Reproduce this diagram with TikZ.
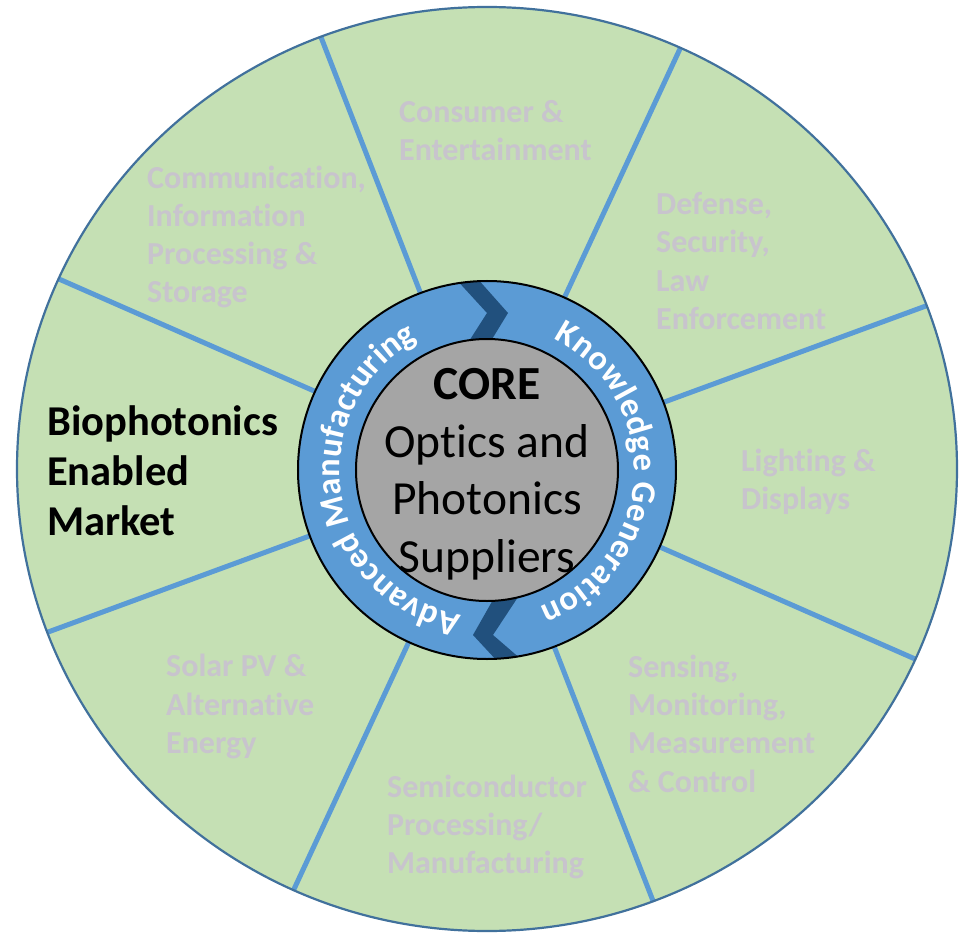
\documentclass[tikz,border=0pt]{standalone}
\usepackage{fontspec}
\setmainfont{Carlito}[Ligatures=NoCommon]
\usetikzlibrary{decorations.text}

\definecolor{sectorgreen}{RGB}{197,224,180}
\definecolor{spokeblue}{RGB}{91,155,213}
\definecolor{rimblue}{RGB}{65,113,156}
\definecolor{chevronblue}{RGB}{33,80,125}
\definecolor{coregray}{RGB}{165,165,165}
\definecolor{labelgray}{RGB}{200,196,205}

\begin{document}
\begin{tikzpicture}[
    x=1pt, y=1pt,
    spoke/.style={draw=spokeblue, line width=5pt},
    rim/.style={draw=rimblue, line width=2.2pt},
    sector/.style={anchor=west, align=left, inner sep=0pt, text=labelgray,
      font=\bfseries\fontsize{32}{38.3}\selectfont},
    market/.style={anchor=west, align=left, inner sep=0pt, text=black,
      font=\bfseries\fontsize{42.5}{50}\selectfont},
    corecircle/.style={circle, draw=black, line width=2pt, fill=coregray,
      minimum size=262pt, inner sep=0pt},
    coretext/.style={align=center, inner sep=0pt,
      font=\fontsize{47.5}{57.5}\selectfont},
    ringtext/.style={decorate, decoration={text along path, text align={fit to path},
      text={|\color{white}\bfseries\fontsize{34.5}{34.5}\selectfont|#1}}}
]
\useasboundingbox (-487,-462) rectangle (474,470);

\def\rimrx{470}
\def\rimry{462}
\def\ringout{189}
\def\ringin{131}
\def\ringbase{147}

\begin{scope}[yshift=1pt]
  \fill[sectorgreen] (0,0) ellipse [x radius=\rimrx, y radius=\rimry];
  \foreach \a in {20.7,65.7,...,335.7}
    \draw[spoke] (\a:\ringout-4) -- (\a:{\rimrx} and {\rimry});
  \draw[rim] (0,0) ellipse [x radius=\rimrx, y radius=\rimry];
\end{scope}

\fill[spokeblue] (0,0) circle [radius=\ringout];
\begin{scope}
  \clip (0,0) circle [radius=\ringout];
  \fill[chevronblue] (-33,193) -- (0,157) -- (-23,121) -- (-1,121) -- (21,157) -- (-11,193) -- cycle;
  \fill[chevronblue] (11,-121) -- (-14,-165) -- (17.5,-199) -- (45.4,-199) -- (6,-165) -- (35,-121) -- cycle;
\end{scope}
\draw[line width=2pt] (0,0) circle [radius=\ringout];

\path[ringtext={Knowledge Generation}] (63:\ringbase) arc [start angle=63, end angle=-69, radius=\ringbase];
\path[ringtext={Advanced Manufacturing}] (260:\ringbase) arc [start angle=260, end angle=118, radius=\ringbase];

\node[corecircle] (core) at (0,0) {};
\node[coretext] (coretxt) at (0,-4) {\textbf{CORE}\\Optics and\\Photonics\\Suppliers};

\node[market] (bio) at (-440,-1) {Biophotonics\\Enabled\\Market};
\node[sector] (consumer) at (-88,339.5) {Consumer \&\\Entertainment};
\node[sector] (comm) at (-340,233) {Communication,\\Information\\Processing \&\\Storage};
\node[sector] (defense) at (169,209) {Defense,\\Security,\\Law\\Enforcement};
\node[sector] (lighting) at (254,-12) {Lighting \&\\Displays};
\node[sector] (sensing) at (141,-253.5) {Sensing,\\Monitoring,\\Measurement\\\& Control};
\node[sector] (semi) at (-100,-357) {Semiconductor\\Processing/\\Manufacturing};
\node[sector] (solar) at (-321,-236.5) {Solar PV \&\\Alternative\\Energy};

\end{tikzpicture}
\end{document}
